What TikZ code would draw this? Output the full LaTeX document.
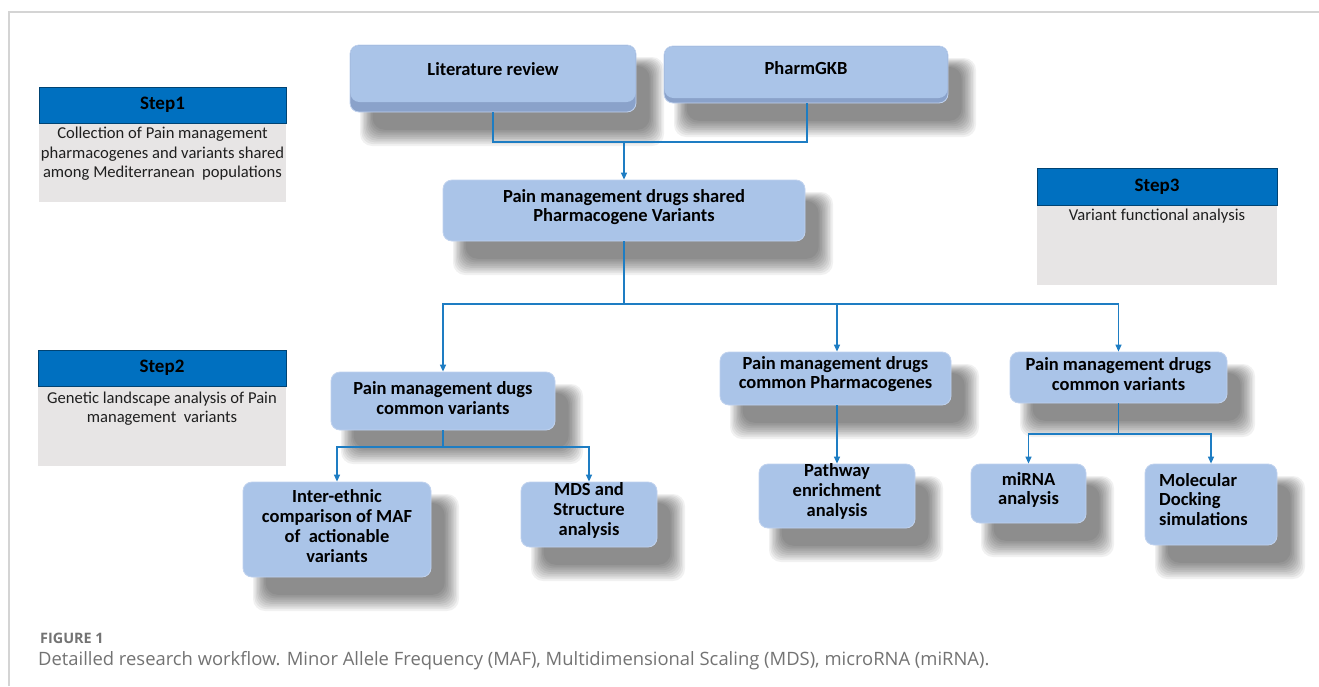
\documentclass[tikz,border=0pt]{standalone}
\usepackage{fontspec}
\setmainfont{Carlito}
\newfontfamily\capfont{Open Sans}
\usetikzlibrary{arrows.meta}
\definecolor{boxfill}{RGB}{170,196,232}
\definecolor{boxedge}{RGB}{192,210,238}
\definecolor{boxband}{RGB}{138,162,202}
\definecolor{linecol}{RGB}{30,125,195}
\definecolor{stephead}{RGB}{0,112,192}
\definecolor{stepbody}{RGB}{231,229,229}
\definecolor{framecol}{RGB}{212,212,212}
\definecolor{capcol}{RGB}{115,115,115}
\tikzset{
 pbox/.style={draw=boxedge, line width=0.8pt, fill=boxfill, rounded corners=9pt, inner sep=0pt},
 ptext/.style={font=\bfseries\fontsize{18.5}{19.8}\selectfont, align=center, text=black, inner sep=0pt},
 conn/.style={draw=linecol, line width=1.3pt},
 arr/.style={conn, -{Triangle[length=7pt,width=6pt]}},
 shead/.style={fill=stephead, draw=stephead!60!black, line width=0.6pt, inner sep=0pt},
 sbody/.style={fill=stepbody, inner sep=0pt},
 stitle/.style={font=\bfseries\fontsize{19}{20}\selectfont, text=black, inner sep=0pt},
 stext/.style={font=\fontsize{16.6}{19.5}\selectfont, align=center, text=black!88, inner sep=0pt},
}
\newcommand\softshadow[4]{%
 \foreach \k in {0,...,9}{%
  \fill[black, opacity=0.055, rounded corners=12pt] ({#1+10+1.4*\k},{#2+12+\k}) rectangle ({#3+28-1.6*\k},{#4+34-1.8*\k});
 }}
% name, x1, y1, x2, y2, text y, text
\newcommand\PBox[7]{%
 \softshadow{#2}{#3}{#4}{#5}
 \node[pbox, minimum width={#4-#2}, minimum height={#5-#3}] (#1) at ({(#2+#4)/2},{(#3+#5)/2}) {};
 \node[ptext] (#1-t) at ({(#2+#4)/2},#6) {#7};
}
% box with darker bottom band: name, x1, y1, x2, y2(face), band, text y, text
\newcommand\BBox[8]{%
 \softshadow{#2}{#3}{#4}{#5+#6}
 \node[pbox, fill=boxband, minimum width={#4-#2}, minimum height={#5+#6-#3}] (#1) at ({(#2+#4)/2},{(#3+#5+#6)/2}) {};
 \fill[boxfill, rounded corners=9pt] ({#2+0.4},{#3+0.4}) rectangle ({#4-0.4},#5);
 \node[ptext] (#1-t) at ({(#2+#4)/2},#7) {#8};
}
% step box: name, x1, y1 (head top), x2, y2 (head bottom), y3 (body bottom), title, text y, text
\newcommand\SBox[9]{%
 \node[sbody, minimum width={#4-#2}, minimum height={#6-#5}] (#1b) at ({(#2+#4)/2},{(#5+#6)/2}) {};
 \node[shead, minimum width={#4-#2}, minimum height={#5-#3}] (#1h) at ({(#2+#4)/2},{(#3+#5)/2}) {};
 \node[stitle] (#1title) at ({(#2+#4)/2},{(#3+#5)/2}) {#7};
 \node[stext] (#1text) at ({(#2+#4)/2},#8) {#9};
}
\begin{document}
\begin{tikzpicture}[x=1pt,y=-1pt]
\useasboundingbox (0,0) rectangle (1319,686);
\fill[white] (0,0) rectangle (1319,686);
\draw[framecol, line width=1.5pt] (9,686) -- (9,12) -- (1319,12);

% step boxes
\SBox{s1}{39}{87}{286}{123}{202}{Step1}{154}{Collection of Pain management\\pharmacogenes and variants shared\\among Mediterranean\ \ populations}
\SBox{s2}{38}{350}{286}{386}{466}{Step2}{408.5}{Genetic landscape analysis of Pain\\management\ \ variants}
\SBox{s3}{1037}{168}{1277}{205}{285}{Step3}{216}{Variant functional analysis}

% flow boxes
\BBox{lit}{350}{45}{636}{102}{10}{69}{Literature review}
\BBox{pgkb}{664}{46}{948}{98}{5}{68}{PharmGKB}
\PBox{shared}{443}{180}{805}{241}{207}{Pain management drugs shared\\Pharmacogene Variants}
\PBox{dugs}{331}{372}{555}{430}{398}{Pain management dugs\\common variants}
\PBox{inter}{243}{482}{431}{577}{526}{Inter-ethnic\\comparison of MAF\\of\ \ actionable\\variants}
\PBox{mds}{521}{482}{657}{547}{510.5}{MDS and\\Structure\\analysis}
\PBox{pcg}{720}{352}{951}{405}{374}{Pain management drugs\\common Pharmacogenes}
\PBox{path}{759}{464}{915}{528}{491.5}{Pathway\\enrichment\\analysis}
\PBox{rcv}{1010}{352}{1227}{403}{374}{Pain management drugs\\common variants}
\PBox{mirna}{971}{464}{1086}{523}{490}{miRNA\\analysis}
\softshadow{1145}{464}{1277}{545}
\node[pbox, minimum width=132, minimum height=81] (mol) at (1211,504.5) {};
\node[ptext, align=left, anchor=west] (mol-t) at (1159,499.5) {Molecular\\Docking\\simulations};

% junctions
\coordinate (j1) at (624,142);
\coordinate (j2) at (624,304);
\coordinate (j3) at (443,447);
\coordinate (j4) at (1118.5,434);

% connectors
\draw[conn] (lit.south -| 493,0) |- (j1);
\draw[conn] (pgkb.south -| 807,0) |- (j1);
\draw[arr] (j1) -- (shared.north -| j1);
\draw[conn] (shared.south -| j2) -- (j2);
\draw[arr] (j2) -| (dugs.north);
\draw[arr] (j2) -| (pcg.north -| 837,0);
\draw[arr] (j2) -| (rcv.north);
\draw[conn] (dugs.south) -- (j3);
\draw[arr] (j3) -| (inter.north);
\draw[arr] (j3) -| (mds.north);
\draw[arr] (pcg.south -| path.north) -- (path.north);
\draw[conn] (rcv.south) -- (j4);
\draw[arr] (j4) -| (mirna.north);
\draw[arr] (j4) -| (mol.north);

% caption
\node[anchor=base west, font=\capfont\bfseries\fontsize{14.4}{16}\selectfont, text=capcol, inner sep=0pt] (figlabel) at (40,643) {FIGURE 1};
\node[anchor=base west, font=\capfont\fontsize{18.4}{20}\selectfont, text=capcol, inner sep=0pt] (caption) at (38,665) {Detailled research workflow. Minor Allele Frequency (MAF), Multidimensional Scaling (MDS), microRNA (miRNA).};
\end{tikzpicture}
\end{document}
